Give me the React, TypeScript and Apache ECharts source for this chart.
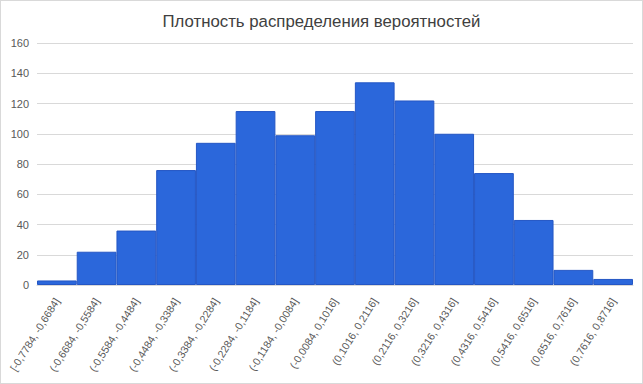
import React, { useEffect, useRef } from "react";
import * as echarts from "echarts";

const title = "Плотность распределения вероятностей";
const categories = [
  "[-0,7784, -0,6684]",
  "(-0,6684, -0,5584]",
  "(-0,5584, -0,4484]",
  "(-0,4484, -0,3384]",
  "(-0,3384, -0,2284]",
  "(-0,2284, -0,1184]",
  "(-0,1184, -0,0084]",
  "(-0,0084, 0,1016]",
  "(0,1016, 0,2116]",
  "(0,2116, 0,3216]",
  "(0,3216, 0,4316]",
  "(0,4316, 0,5416]",
  "(0,5416, 0,6516]",
  "(0,6516, 0,7616]",
  "(0,7616, 0,8716]",
];
const counts = [3, 22, 36, 76, 94, 115, 99, 115, 134, 122, 100, 74, 43, 10, 4];
const yMin = 0;
const yMax = 160;
const yStep = 20;

export default function App() {
  const ref = useRef<HTMLDivElement>(null);
  useEffect(() => {
    if (!ref.current) return;
    const chart = echarts.init(ref.current, undefined, { renderer: "svg" });
    const font = "'Liberation Sans', 'Open Sans', sans-serif";
    chart.setOption({
      animation: false,
      backgroundColor: "#ffffff",
      textStyle: { fontFamily: font },
      title: {
        text: title,
        left: "center",
        top: 7,
        textStyle: { fontSize: 16.8, fontWeight: "normal", color: "#404040", fontFamily: font },
      },
      grid: {
        left: 36,
        right: 9,
        top: 42,
        bottom: 98,
        containLabel: false,
        outerBoundsMode: "none",
      },
      xAxis: {
        type: "category",
        data: categories,
        axisLine: { show: true, lineStyle: { color: "#d9d9d9" } },
        axisTick: { show: false },
        axisLabel: {
          interval: 0,
          rotate: 58,
          fontSize: 10.6,
          color: "#595959",
          margin: 14,
          fontFamily: font,
          hideOverlap: false,
        },
      },
      yAxis: {
        type: "value",
        min: yMin,
        max: yMax,
        interval: yStep,
        axisLine: { show: false },
        axisTick: { show: false },
        splitLine: { lineStyle: { color: "#d9d9d9", width: 1 } },
        axisLabel: { fontSize: 11, color: "#595959", margin: 8, fontFamily: font },
      },
      series: [
        {
          type: "bar",
          data: counts,
          barCategoryGap: "0%",
          itemStyle: { color: "#2b67db", borderColor: "#2456c4", borderWidth: 1 },
        },
      ],
    });
    return () => chart.dispose();
  }, []);
  return (
    <div
      style={{
        position: "fixed",
        left: 0,
        top: 0,
        width: 643,
        height: 384,
        boxSizing: "border-box",
        border: "1px solid #d9d9d9",
        background: "#fff",
      }}
    >
      <div ref={ref} style={{ width: 641, height: 382 }} />
    </div>
  );
}
